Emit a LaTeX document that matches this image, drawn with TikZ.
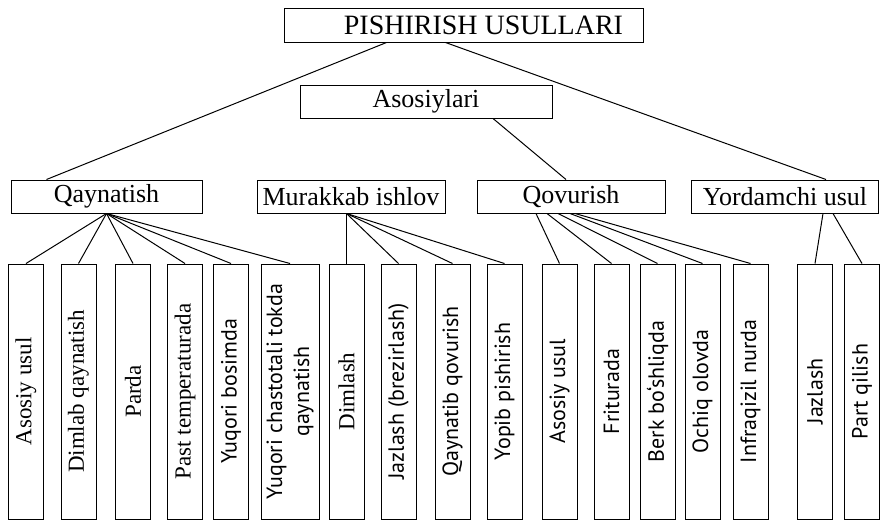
\documentclass[tikz,border=0pt]{standalone}
\usepackage{fontspec}
\setmainfont{Liberation Serif}
\newfontfamily\leafsans{PT Sans}
\begin{document}
\begin{tikzpicture}[x=1pt,y=-1pt,line width=1pt,
    box/.style={draw,inner sep=0pt,minimum height=33},
    head/.style={box,font=\fontsize{26}{28}\selectfont},
    leaf/.style={draw,rotate=90,inner sep=0pt,minimum width=255,minimum height=35,
      align=center,font=\fontsize{23}{27}\selectfont},
    sleaf/.style={leaf,font=\leafsans\fontsize{22}{27}\selectfont}]
  \useasboundingbox (0,0) rectangle (880,522);
  \draw
    (463.5,25) node[box,minimum width=359,minimum height=34,
      font=\fontsize{28}{30}\selectfont] (top){\hspace*{40pt}PISHIRISH USULLARI}
    (426,101.5) node[head,minimum width=252] (aso){Asosiylari}
    (106.5,196.5) node[head,minimum width=191] (qay){Qaynatish}
    (351,196.5) node[head,minimum width=188] (mur){Murakkab ishlov}
    (571,196.5) node[head,minimum width=188] (qov){Qovurish}
    (785,196.5) node[head,minimum width=187] (yor){Yordamchi usul};
  \draw
    (26,391.5) node[leaf] (qay1){Asosiy usul}
    (78.5,391.5) node[leaf] (qay2){Dimlab qaynatish}
    (133,391.5) node[leaf] (qay3){Parda}
    (185,391.5) node[leaf] (qay4){Past temperaturada}
    (231,391.5) node[sleaf] (qay5){Yuqori bosimda}
    (290,391.5) node[sleaf,minimum height=58] (qay6){Yuqori chastotali tokda\\qaynatish}
    (346.5,391.5) node[leaf] (mur1){Dimlash}
    (398.5,391.5) node[sleaf] (mur2){Jazlash (brezirlash)}
    (452.5,391.5) node[sleaf] (mur3){Qaynatib qovurish}
    (504.5,391.5) node[sleaf] (mur4){Yopib pishirish}
    (559.5,391.5) node[sleaf] (qov1){Asosiy usul}
    (611.5,391.5) node[sleaf] (qov2){Friturada}
    (657.5,391.5) node[sleaf] (qov3){Berk bo‘shliqda}
    (702.5,391.5) node[sleaf] (qov4){Ochiq olovda}
    (750.5,391.5) node[sleaf] (qov5){Infraqizil nurda}
    (815,391.5) node[sleaf] (yor1){Jazlash}
    (862,391.5) node[sleaf] (yor2){Part qilish};
  \begin{scope}[-]
    \draw ([xshift=-77]top.south) to ([xshift=-60]qay.north);
    \draw ([xshift=-18]top.south) to ([xshift=41]yor.north);
    \draw ([xshift=67]aso.south) to ([xshift=-5]qov.north);
    \draw (qay.south) to (qay1.east);
    \draw (qay.south) to (qay2.east);
    \draw (qay.south) to (qay3.east);
    \draw (qay.south) to (qay4.east);
    \draw (qay.south) to (qay5.east);
    \draw (qay.south) to (qay6.east);
    \draw (mur1.east |- mur.south) to (mur1.east);
    \draw (mur1.east |- mur.south) to (mur2.east);
    \draw (mur1.east |- mur.south) to (mur3.east);
    \draw (mur1.east |- mur.south) to (mur4.east);
    \draw ([xshift=-35]qov.south) to (qov1.east);
    \draw ([xshift=-24]qov.south) to (qov2.east);
    \draw ([xshift=-13]qov.south) to (qov3.east);
    \draw ([xshift=-1]qov.south) to (qov4.east);
    \draw ([xshift=4]qov.south) to (qov5.east);
    \draw ([xshift=38]yor.south) to (yor1.east);
    \draw ([xshift=48]yor.south) to (yor2.east);
  \end{scope}
\end{tikzpicture}
\end{document}
